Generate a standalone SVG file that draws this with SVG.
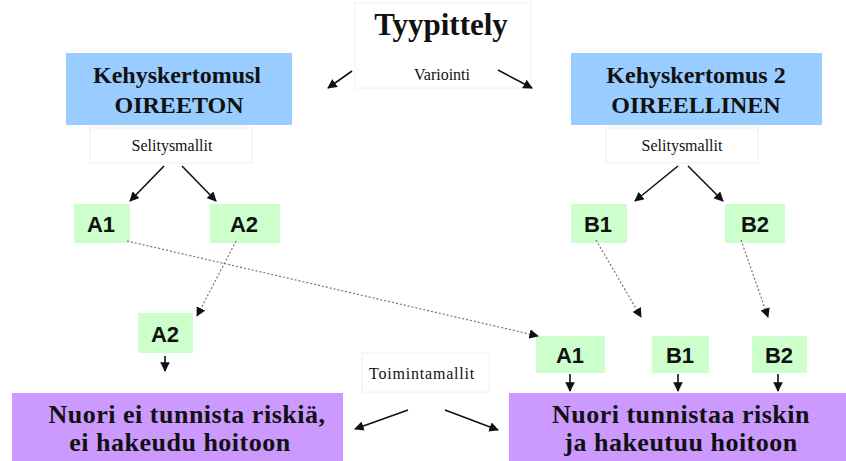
<svg xmlns="http://www.w3.org/2000/svg" width="846" height="461" viewBox="0 0 846 461">
<style>
.serif{font-family:"Liberation Serif","Times New Roman",serif;fill:#111;text-anchor:middle}
.big{font-size:24px;font-weight:bold}
.pur{font-size:26px;font-weight:bold;letter-spacing:0.5px}
.small{font-size:16px}
.lab{font-family:"Liberation Sans",Arial,sans-serif;font-weight:bold;font-size:22px;fill:#111;text-anchor:middle}
.blue{fill:#99CCFF}
.green{fill:#CCFFCC}
.purple{fill:#CC99FF}
.wbox{fill:#fff;stroke:#f0f0f0;stroke-width:1}
.solid{stroke:#111;stroke-width:1.6;fill:none}
.dot{stroke:#777;stroke-width:1.2;stroke-dasharray:2 2;fill:none}
</style>
<defs>
<marker id="ah" viewBox="0 0 10 10" refX="9" refY="5" markerWidth="6" markerHeight="6" orient="auto" markerUnits="strokeWidth">
<path d="M0,0 L10,5 L0,10 z" fill="#111"/>
</marker>
<marker id="ahd" viewBox="0 0 10 10" refX="9" refY="5" markerWidth="8" markerHeight="8" orient="auto" markerUnits="strokeWidth">
<path d="M0,0 L10,5 L0,10 z" fill="#111"/>
</marker>
</defs>
<rect width="846" height="461" fill="#fff"/>
<g id="title">
<rect class="wbox" x="355" y="3" width="176" height="85"/>
<text class="serif" x="441" y="35" font-size="31" font-weight="bold">Tyypittely</text>
<text class="serif small" x="442" y="80">Variointi</text>
</g>
<g id="kehys1">
<rect class="blue" x="66" y="53" width="226" height="72"/>
<text class="serif big" x="177" y="83">Kehyskertomusl</text>
<text class="serif big" x="179" y="113">OIREETON</text>
</g>
<g id="kehys2">
<rect class="blue" x="571" y="53" width="251" height="72"/>
<text class="serif big" x="696" y="83">Kehyskertomus 2</text>
<text class="serif big" x="696" y="113">OIREELLINEN</text>
</g>
<g id="selitys1">
<rect class="wbox" x="90" y="128" width="162" height="35"/>
<text class="serif small" x="172" y="151">Selitysmallit</text>
</g>
<g id="selitys2">
<rect class="wbox" x="606" y="128" width="152" height="35"/>
<text class="serif small" x="682" y="151">Selitysmallit</text>
</g>
<g id="a1top"><rect class="green" x="74" y="204" width="56" height="39"/><text class="lab" x="101" y="232">A1</text></g>
<g id="a2top"><rect class="green" x="210" y="204" width="70" height="39"/><text class="lab" x="244" y="232">A2</text></g>
<g id="b1top"><rect class="green" x="571" y="204" width="56" height="39"/><text class="lab" x="598" y="232">B1</text></g>
<g id="b2top"><rect class="green" x="725" y="204" width="60" height="39"/><text class="lab" x="755" y="232">B2</text></g>
<g id="a2mid"><rect class="green" x="138" y="313" width="55" height="40"/><text class="lab" x="165" y="342">A2</text></g>
<g id="a1low"><rect class="green" x="536" y="336" width="69" height="37"/><text class="lab" x="570" y="363">A1</text></g>
<g id="b1low"><rect class="green" x="652" y="336" width="57" height="37"/><text class="lab" x="680" y="363">B1</text></g>
<g id="b2low"><rect class="green" x="752" y="336" width="55" height="37"/><text class="lab" x="779" y="363">B2</text></g>
<g id="toiminta">
<rect class="wbox" x="362" y="353" width="127" height="39"/>
<text class="serif small" x="422" y="379" letter-spacing="0.8">Toimintamallit</text>
</g>
<g id="nuori1">
<rect class="purple" x="12" y="393" width="331" height="68"/>
<text class="serif pur" x="187" y="423">Nuori ei tunnista riskiä,</text>
<text class="serif pur" x="180" y="451">ei hakeudu hoitoon</text>
</g>
<g id="nuori2">
<rect class="purple" x="509" y="393" width="337" height="68"/>
<text class="serif pur" x="681" y="423">Nuori tunnistaa riskin</text>
<text class="serif pur" x="681" y="451">ja hakeutuu hoitoon</text>
</g>
<g id="connectors">
<line class="solid" x1="352" y1="71" x2="328" y2="88" marker-end="url(#ah)"/>
<line class="solid" x1="498" y1="70" x2="532" y2="88" marker-end="url(#ah)"/>
<line class="solid" x1="164" y1="166" x2="130" y2="201" marker-end="url(#ah)"/>
<line class="solid" x1="182" y1="166" x2="216" y2="201" marker-end="url(#ah)"/>
<line class="solid" x1="678" y1="166" x2="635" y2="201" marker-end="url(#ah)"/>
<line class="solid" x1="688" y1="166" x2="723" y2="201" marker-end="url(#ah)"/>
<line class="dot" x1="127" y1="241" x2="538" y2="336" marker-end="url(#ahd)"/>
<line class="dot" x1="236" y1="241" x2="197" y2="316" marker-end="url(#ahd)"/>
<line class="dot" x1="596" y1="240" x2="641" y2="317" marker-end="url(#ahd)"/>
<line class="dot" x1="741" y1="240" x2="768" y2="317" marker-end="url(#ahd)"/>
<line class="solid" x1="165" y1="356" x2="165" y2="371" marker-end="url(#ah)"/>
<line class="solid" x1="570" y1="374" x2="570" y2="391" marker-end="url(#ah)"/>
<line class="solid" x1="678" y1="374" x2="678" y2="391" marker-end="url(#ah)"/>
<line class="solid" x1="778" y1="374" x2="778" y2="391" marker-end="url(#ah)"/>
<line class="solid" x1="408" y1="410" x2="355" y2="429" marker-end="url(#ah)"/>
<line class="solid" x1="445" y1="410" x2="498" y2="430" marker-end="url(#ah)"/>
</g>
</svg>
